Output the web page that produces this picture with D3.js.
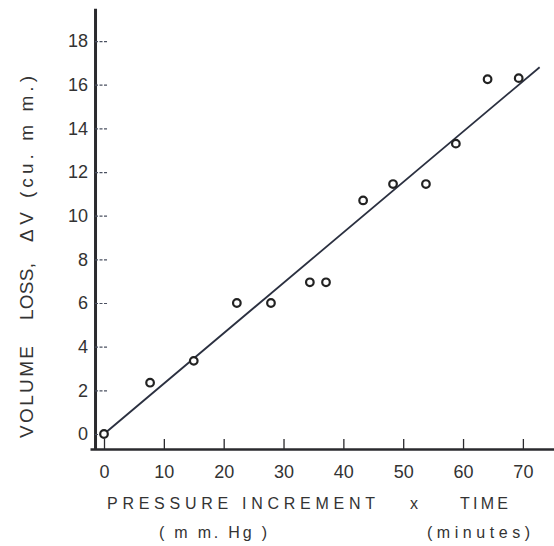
<!DOCTYPE html>
<html>
<head>
<meta charset="utf-8">
<script src="https://cdn.jsdelivr.net/npm/d3@7"></script>
<style>
  html, body { margin: 0; padding: 0; background: #fff; }
  svg { display: block; }
  text { font-family: "Liberation Sans", "DejaVu Sans", sans-serif; fill: #333; }
</style>
</head>
<body>
<svg id="chart" width="554" height="546"></svg>
<script>
// ---- data ----
const xValues = [0, 7.7, 15.0, 22.2, 27.9, 34.4, 37.1, 43.3, 48.3, 53.8, 58.8, 64.1, 69.3];
const yValues = [0, 2.35, 3.35, 6.0, 6.0, 6.95, 6.95, 10.7, 11.45, 11.45, 13.3, 16.25, 16.3];
const fitX = [0, 72.8];
const fitY = [0, 16.8];
const xTicks = [0, 10, 20, 30, 40, 50, 60, 70];
const yTicks = [0, 2, 4, 6, 8, 10, 12, 14, 16, 18];
const xTitle = ["PRESSURE INCREMENT", "x", "TIME"];
const xUnits = ["( m m. Hg )", "(minutes)"];
const yTitle = ["VOLUME", "LOSS,", "ΔV", "(cu. m m.)"];

// ---- scales ----
const svg = d3.select("#chart");
const x = d3.scaleLinear().domain([-2.34, 75.2]).range([90, 554]);
const y = d3.scaleLinear().domain([-0.687, 19.5]).range([449, 8.3]);
const yAxisX = x(-1.5);
const ink = "#2a2a2e";

// x axis (ticks pointing up, inside)
const gx = svg.append("g").attr("transform", `translate(0,${y(-0.687)})`)
  .call(d3.axisBottom(x).tickValues(xTicks).tickSizeInner(-10).tickSizeOuter(0).tickPadding(16).tickFormat(d3.format("d")));
gx.select(".domain").attr("stroke", ink).attr("stroke-width", 2.6);
gx.selectAll(".tick line").attr("stroke", ink).attr("stroke-width", 1.3);
gx.selectAll(".tick text").style("font-size", "18px").attr("fill", "#383838");

// y axis (ticks pointing right, inside)
const gy = svg.append("g").attr("transform", `translate(${yAxisX},0)`)
  .call(d3.axisLeft(y).tickValues(yTicks).tickSizeInner(-13).tickSizeOuter(0).tickPadding(7).tickFormat(d3.format("d")));
gy.select(".domain").attr("stroke", ink).attr("stroke-width", 3);
gy.selectAll(".tick line").attr("stroke", "#4a5060").attr("stroke-width", 1.2).attr("stroke-dasharray", "3,1.5");
gy.selectAll(".tick text").style("font-size", "18px").attr("fill", "#383838");

// fitted line
svg.append("path")
  .datum(fitX.map((d, i) => [d, fitY[i]]))
  .attr("d", d3.line().x(d => x(d[0])).y(d => y(d[1])))
  .attr("fill", "none").attr("stroke", "#2b3040").attr("stroke-width", 1.8);

// points
svg.append("g").selectAll("circle")
  .data(xValues.map((d, i) => [d, yValues[i]]))
  .join("circle")
  .attr("cx", d => x(d[0])).attr("cy", d => y(d[1]))
  .attr("r", 3.8)
  .attr("fill", "#fff").attr("stroke", "#222").attr("stroke-width", 2.2);

// x titles
const xt = [[107, 375], [410, 420], [460, 508]];
xTitle.forEach((t, i) => {
  const el = svg.append("text").attr("x", xt[i][0]).attr("y", 509)
    .style("font-size", "16px").text(t);
  if (t.length > 1) el.attr("textLength", xt[i][1] - xt[i][0]).attr("lengthAdjust", "spacing");
});
const xu = [[159, 267], [427, 530]];
xUnits.forEach((t, i) => {
  svg.append("text").attr("x", xu[i][0]).attr("y", 538)
    .style("font-size", "16px")
    .attr("textLength", xu[i][1] - xu[i][0]).attr("lengthAdjust", "spacing").text(t);
});

// y titles (rotated)
const yt = [[438, 346], [320, 263], [242, 212], [198, 76]];
yTitle.forEach((t, i) => {
  svg.append("text")
    .attr("transform", `translate(33,${yt[i][0]}) rotate(-90)`)
    .style("font-size", "19px")
    .attr("textLength", yt[i][0] - yt[i][1]).attr("lengthAdjust", "spacing")
    .text(t);
});
</script>
</body>
</html>
